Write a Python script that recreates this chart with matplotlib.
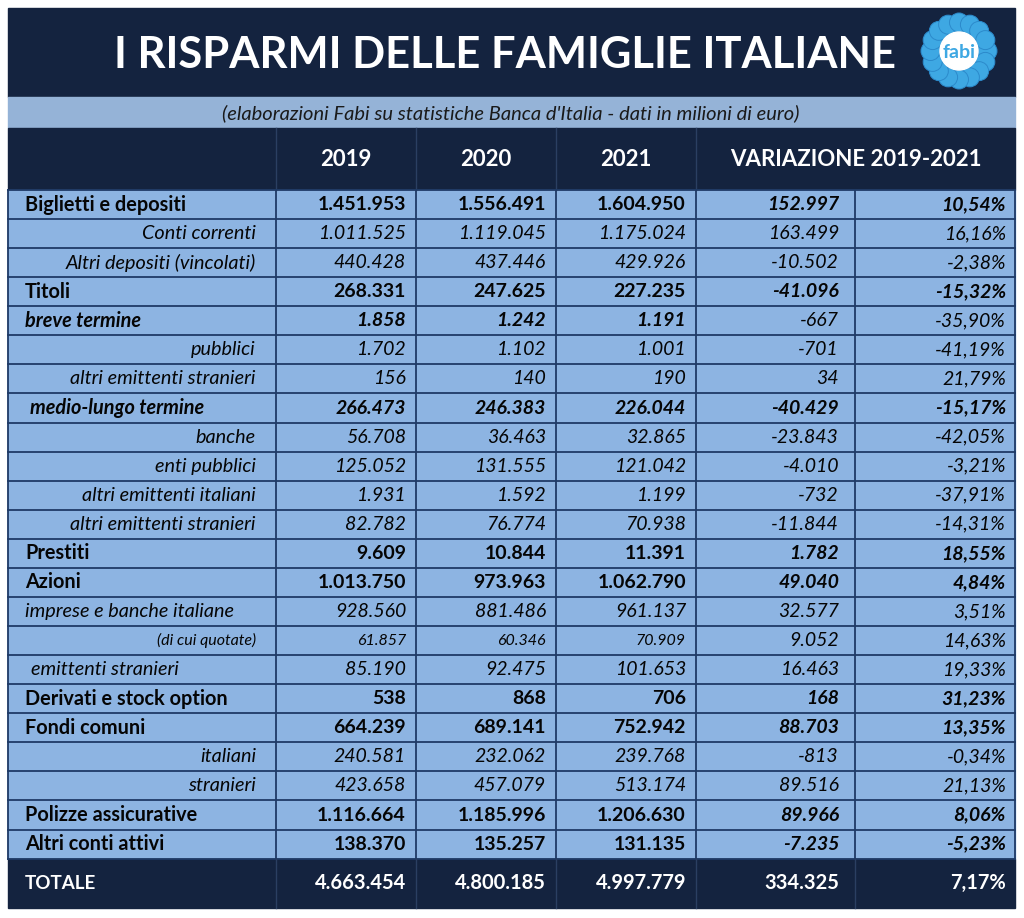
import matplotlib
matplotlib.use('Agg')
import matplotlib.pyplot as plt
from matplotlib.patches import Rectangle, Circle
import numpy as np

plt.rcParams['font.family'] = ['Lato', 'DejaVu Sans']

# data (milioni di euro)
labels = ['Biglietti e depositi', 'Conti correnti', 'Altri depositi (vincolati)', 'Titoli',
          'breve termine', 'pubblici', 'altri emittenti stranieri', 'medio-lungo termine',
          'banche', 'enti pubblici', 'altri emittenti italiani', 'altri emittenti stranieri',
          'Prestiti', 'Azioni', 'imprese e banche italiane', '(di cui quotate)',
          'emittenti stranieri', 'Derivati e stock option', 'Fondi comuni', 'italiani',
          'stranieri', 'Polizze assicurative', 'Altri conti attivi']
val_2019 = [1451953, 1011525, 440428, 268331, 1858, 1702, 156, 266473, 56708, 125052,
            1931, 82782, 9609, 1013750, 928560, 61857, 85190, 538, 664239, 240581,
            423658, 1116664, 138370]
val_2020 = [1556491, 1119045, 437446, 247625, 1242, 1102, 140, 246383, 36463, 131555,
            1592, 76774, 10844, 973963, 881486, 60346, 92475, 868, 689141, 232062,
            457079, 1185996, 135257]
val_2021 = [1604950, 1175024, 429926, 227235, 1191, 1001, 190, 226044, 32865, 121042,
            1199, 70938, 11391, 1062790, 961137, 70909, 101653, 706, 752942, 239768,
            513174, 1206630, 131135]
var_abs = [152997, 163499, -10502, -41096, -667, -701, 34, -40429, -23843, -4010,
           -732, -11844, 1782, 49040, 32577, 9052, 16463, 168, 88703, -813,
           89516, 89966, -7235]
var_pct = [10.54, 16.16, -2.38, -15.32, -35.90, -41.19, 21.79, -15.17, -42.05, -3.21,
           -37.91, -14.31, 18.55, 4.84, 3.51, 14.63, 19.33, 31.23, 13.35, -0.34,
           21.13, 8.06, -5.23]
years = ['2019', '2020', '2021']
totals = [4663454, 4800185, 4997779]
total_var_abs = 334325
total_var_pct = 7.17

# row styles: 'b' bold, 'bi' bold italic, 'i' italic right, 'il' italic left, 's' small italic
row_style = ['b', 'i', 'i', 'b', 'bi', 'i', 'i', 'bi', 'i', 'i', 'i', 'i',
             'b', 'b', 'il', 's', 'il', 'b', 'b', 'i', 'i', 'b', 'b']

NAVY = '#14233f'
ROW = '#8db4e2'
SUB = '#95b3d7'
LINE = '#1f3a66'
INK = '#050505'
LOGO = '#3ea8e3'


def fmt_int(v):
    s = '{:,}'.format(abs(v)).replace(',', '.')
    return ('-' if v < 0 else '') + s


def fmt_pct(v):
    return ('{:.2f}'.format(v)).replace('.', ',') + '%'


fig = plt.figure(figsize=(10.24, 9.18), dpi=100)
ax = fig.add_axes([0, 0, 1, 1])
ax.set_xlim(0, 1024)
ax.set_ylim(918, 0)
ax.axis('off')

left, right = 8, 1015
col_edges = [8, 276, 416, 556, 696, 855, 1015]
top_data = 190
row_h = 29.07
n = len(labels)
bottom_data = top_data + n * row_h
bottom_total = 908

# title band
ax.add_patch(Rectangle((left, 8), right - left, 89, color=NAVY, zorder=1))
ax.text(505, 55, 'I RISPARMI DELLE FAMIGLIE ITALIANE', color='white', fontsize=31.3,
        fontweight='bold', ha='center', va='center')

# logo
cx, cy = 959, 51
ax.add_patch(Circle((cx, cy), 25, color=LOGO, zorder=2))
for a in np.linspace(0, 2 * np.pi, 16, endpoint=False):
    ax.add_patch(Circle((cx + 28.5 * np.cos(a), cy + 28.5 * np.sin(a)), 9.5,
                        color=LOGO, ec='#2c8acb', lw=0.7, zorder=2))
ax.add_patch(Circle((cx, cy), 19, color='white', zorder=3))
ax.text(cx, cy + 1, 'fabi', color=LOGO, fontsize=14, fontweight='bold',
        ha='center', va='center', zorder=4)

# subtitle band
ax.add_patch(Rectangle((left, 97), right - left, 31, color=SUB, zorder=1))
ax.text(511, 113, "(elaborazioni Fabi su statistiche Banca d'Italia - dati in milioni di euro)",
        fontsize=14.5, style='italic', color='#1a1a1a', ha='center', va='center')

# header row
ax.add_patch(Rectangle((left, 128), right - left, top_data - 128, color=NAVY, zorder=1))
for x in col_edges[1:5]:
    ax.plot([x, x], [128, top_data], color='#2b3f62', lw=1, zorder=2)
for i, yr in enumerate(years):
    ax.text(col_edges[i + 2] - 70, 159, yr, color='white', fontsize=16, fontweight='bold',
            ha='center', va='center')
ax.text((col_edges[4] + col_edges[6]) / 2, 159, 'VARIAZIONE 2019-2021', color='white',
        fontsize=16, fontweight='bold', ha='center', va='center')

# data rows
ax.add_patch(Rectangle((left, top_data), right - left, n * row_h, color=ROW, zorder=1))
for i in range(n + 1):
    y = top_data + i * row_h
    ax.plot([left, right], [y, y], color=LINE, lw=1.3, zorder=2)
for x in col_edges:
    ax.plot([x, x], [top_data, bottom_data], color=LINE, lw=1.3, zorder=2)

for i in range(n):
    y = top_data + (i + 0.5) * row_h
    st = row_style[i]
    fs_lab = 14.3
    fs_num = 14
    if st == 'b':
        lab = dict(fontweight='bold', ha='left', x=25)
        num = dict(fontweight='bold', style='normal')
        var = dict(fontweight='bold', style='italic')
    elif st == 'bi':
        lab = dict(fontweight='bold', style='italic', ha='left', x=25 if labels[i].startswith('breve') else 30)
        num = dict(fontweight='bold', style='italic')
        if labels[i].startswith('breve'):
            var = dict(fontweight='normal', style='italic')
        else:
            var = dict(fontweight='bold', style='italic')
    elif st == 'il':
        lab = dict(style='italic', ha='left', x=25 if labels[i].startswith('imprese') else 31)
        num = dict(style='italic')
        var = dict(style='italic')
    elif st == 's':
        lab = dict(style='italic', ha='right', x=256, fontsize=11.5)
        num = dict(style='italic', fontsize=11.5)
        var = dict(style='italic')
    else:
        lab = dict(style='italic', ha='right', x=256)
        num = dict(style='italic')
        var = dict(style='italic')

    lx = lab.pop('x')
    lab.setdefault('fontsize', fs_lab)
    ax.text(lx, y, labels[i], va='center', color=INK, **lab)
    num.setdefault('fontsize', fs_num)
    var.setdefault('fontsize', fs_num)
    for j, vals in enumerate([val_2019, val_2020, val_2021]):
        ax.text(col_edges[j + 2] - 10, y, fmt_int(vals[i]), ha='right', va='center',
                color=INK, **num)
    ax.text(col_edges[5] - 16, y, fmt_int(var_abs[i]), ha='right', va='center',
            color=INK, **var)
    ax.text(col_edges[6] - 9, y, fmt_pct(var_pct[i]), ha='right', va='center',
            color=INK, **var)

# total row
ax.add_patch(Rectangle((left, bottom_data), right - left, bottom_total - bottom_data,
                       color=NAVY, zorder=1))
for x in col_edges[1:6]:
    ax.plot([x, x], [bottom_data, bottom_total], color='#2b3f62', lw=1, zorder=2)
ty = (bottom_data + bottom_total) / 2
ax.text(25, ty, 'TOTALE', color='white', fontsize=13.5, fontweight='bold', ha='left', va='center')
for j, v in enumerate(totals):
    ax.text(col_edges[j + 2] - 10, ty, fmt_int(v), color='white', fontsize=14.5,
            fontweight='bold', ha='right', va='center')
ax.text(col_edges[5] - 16, ty, fmt_int(total_var_abs), color='white', fontsize=14.5,
        fontweight='bold', ha='right', va='center')
ax.text(col_edges[6] - 9, ty, fmt_pct(total_var_pct), color='white', fontsize=14.5,
        fontweight='bold', ha='right', va='center')

plt.savefig('out.png', dpi=100, facecolor='white')
